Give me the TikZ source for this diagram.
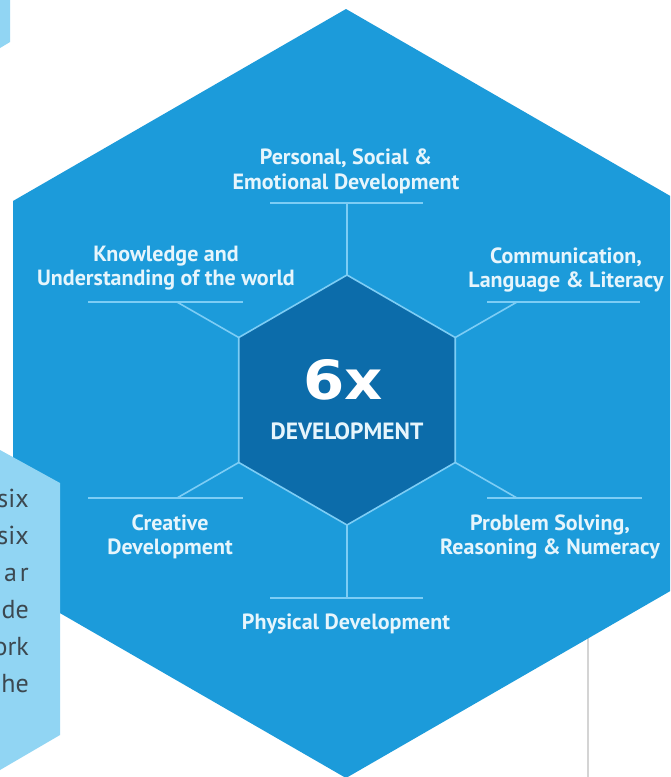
\documentclass[tikz,border=0pt]{standalone}
\usepackage{fontspec}
\setmainfont{PT Sans}
\newfontfamily\bigfont{DejaVu Sans}
\usetikzlibrary{calc}
\definecolor{mainblue}{HTML}{1C9BDA}
\definecolor{innerblue}{HTML}{0C6CAA}
\definecolor{linkblue}{HTML}{7DCDF5}
\definecolor{labeltext}{HTML}{E6F5FC}
\definecolor{paleblue}{HTML}{91D5F3}
\definecolor{sidetext}{HTML}{3C4850}
\definecolor{rulegray}{HTML}{D4D4D4}
\begin{document}
\begin{tikzpicture}[x=1pt,y=-1pt,
  lbl/.style={text=labeltext, font=\fontsize{22}{24.5}\selectfont\bfseries, align=center, inner sep=0pt},
  link/.style={draw=linkblue, line width=1.6pt},
  sidetxt/.style={text=sidetext, font=\fontsize{26}{30}\selectfont, anchor=base east, inner sep=0pt}]
\useasboundingbox (0,0) rectangle (670,777);
\clip (0,0) rectangle (670,777);
\fill[white] (0,0) rectangle (670,777);
% faint gray rule behind hexagon
\coordinate (g1) at (588,600);
\coordinate (g2) at (588,777);
\draw[rulegray, line width=1.6pt] (g1) -- (g2);
% big hexagon
\fill[mainblue] (346,9) -- (679,201) -- (679,586) -- (346,778) -- (13,586) -- (13,201) -- cycle;
% top-left pale shape
\fill[paleblue] (0,0) -- (10,0) -- (10,42) -- (0,48) -- cycle;
% left pale panel
\fill[paleblue] (0,450) -- (60,483) -- (60,735) -- (0,770) -- cycle;
\node[sidetxt] (s1) at (29,507) {six};
\node[sidetxt] (s2) at (29,544) {six};
\node[sidetxt] (s3) at (29,581) {a\hspace{3pt}r};
\node[sidetxt] (s4) at (29,618) {de};
\node[sidetxt] (s5) at (29,655) {ork};
\node[sidetxt] (s6) at (29,692) {he};
% inner hexagon vertices
\coordinate (vt) at (347,275);
\coordinate (vur) at (455.25,337.5);
\coordinate (vlr) at (455.25,462.5);
\coordinate (vb) at (347,525);
\coordinate (vll) at (238.75,462.5);
\coordinate (vul) at (238.75,337.5);
\filldraw[fill=innerblue, link] (vt) -- (vur) -- (vlr) -- (vb) -- (vll) -- (vul) -- cycle;
% connector ends
\coordinate (et) at (347,203);
\coordinate (eul) at (177,302);
\coordinate (eur) at (517,302);
\coordinate (ell) at (177,498);
\coordinate (elr) at (517,498);
\coordinate (eb) at (347,598);
\draw[link] (vt) -- (et);
\draw[link] (vul) -- (eul);
\draw[link] (vur) -- (eur);
\draw[link] (vll) -- (ell);
\draw[link] (vlr) -- (elr);
\draw[link] (vb) -- (eb);
% underlines
\coordinate (ut1) at (270,203); \coordinate (ut2) at (423,203);
\coordinate (uul1) at (88,302); \coordinate (uul2) at (243,302);
\coordinate (uur1) at (487,302); \coordinate (uur2) at (640,302);
\coordinate (ull1) at (88,498); \coordinate (ull2) at (243,498);
\coordinate (ulr1) at (487,498); \coordinate (ulr2) at (642,498);
\coordinate (ub1) at (270,598); \coordinate (ub2) at (423,598);
\draw[link] (ut1) -- (ut2);
\draw[link] (uul1) -- (uul2);
\draw[link] (uur1) -- (uur2);
\draw[link] (ull1) -- (ull2);
\draw[link] (ulr1) -- (ulr2);
\draw[link] (ub1) -- (ub2);
% labels
\node[lbl] (ps) at (346,171.5) {Personal, Social \&\\Emotional Development};
\node[lbl] (ku) at (166,268) {Knowledge and\\Understanding of the world};
\node[lbl] (cl) at (566,270) {Communication,\\Language \& Literacy};
\node[lbl] (cd) at (170,537) {Creative\\Development};
\node[lbl] (pr) at (550,537) {Problem Solving,\\Reasoning \& Numeracy};
\node[lbl] (pd) at (346,624) {Physical Development};
% centre
\node[text=white, inner sep=0pt, font=\bigfont\fontsize{54}{54}\selectfont\bfseries] (six) at (343,380) {\scalebox{1.1}[1]{6x}};
\node[text=labeltext, inner sep=0pt, font=\fontsize{23.5}{23.5}\selectfont\bfseries] (dev) at (347,431) {DEVELOPMENT};
\end{tikzpicture}
\end{document}
